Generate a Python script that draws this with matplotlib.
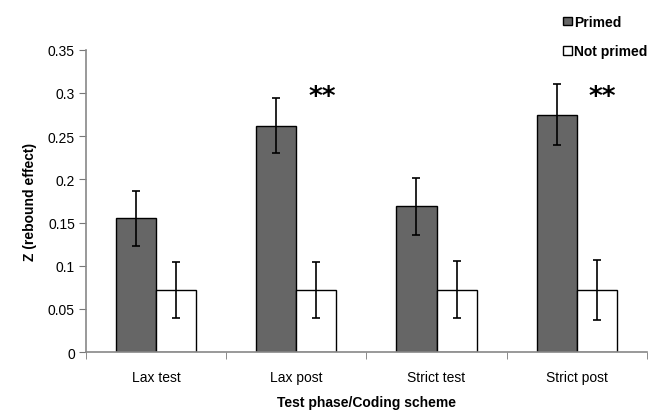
import numpy as np
import matplotlib.pyplot as plt

plt.rcParams['font.family'] = ['Liberation Sans', 'DejaVu Sans']

categories = ["Lax test", "Lax post", "Strict test", "Strict post"]
primed = [0.155, 0.262, 0.169, 0.275]
primed_err = [0.032, 0.032, 0.033, 0.035]
not_primed = [0.072, 0.072, 0.072, 0.072]
not_primed_err = [0.032, 0.032, 0.033, 0.035]
stars = ["", "**", "", "**"]
star_level = 0.295

fig = plt.figure(figsize=(6.59, 4.14), dpi=100)
ax = fig.add_axes([0.1305, 0.147, 0.851, 0.7305])

x = np.arange(len(categories))
w = 0.286
ebar = dict(ecolor='black', elinewidth=1.2, capsize=3, capthick=1.2)
b1 = ax.bar(x - w / 2, primed, w, yerr=primed_err, color='#666666',
            edgecolor='black', linewidth=1, error_kw=ebar, label='Primed')
b2 = ax.bar(x + w / 2, not_primed, w, yerr=not_primed_err, color='white',
            edgecolor='black', linewidth=1, error_kw=ebar, label='Not primed')

# significance marks above the not-primed bars
for i, s in enumerate(stars):
    if s:
        ax.text(x[i] + w / 2 + 0.04, star_level, s, ha='center', va='center',
                fontsize=19, fontweight='bold', family='DejaVu Sans')

ax.set_xlim(-0.5, len(categories) - 0.5)
ax.set_ylim(0, 0.35)
ax.set_yticks([0, 0.05, 0.1, 0.15, 0.2, 0.25, 0.3, 0.35])
ax.set_yticklabels(['0', '0.05', '0.1', '0.15', '0.2', '0.25', '0.3', '0.35'])
ax.set_xticks(x)
ax.set_xticklabels(categories)
ax.set_xticks(np.arange(-0.5, len(categories)), minor=True)
ax.tick_params(axis='x', which='major', length=0, pad=13, labelsize=10)
ax.tick_params(axis='x', which='minor', length=5, color='#777777')
ax.tick_params(axis='y', length=5, color='#777777', labelsize=10, pad=3)

for sp in ['top', 'right']:
    ax.spines[sp].set_visible(False)
for sp in ['left', 'bottom']:
    ax.spines[sp].set_color('#888888')
    ax.spines[sp].set_linewidth(1.2)

ax.set_xlabel('Test phase/Coding scheme', fontsize=10, fontweight='bold', labelpad=8)
ax.set_ylabel('Z (rebound effect)', fontsize=10, fontweight='bold', labelpad=8)

fig.legend(handles=[b1, b2], loc='upper left', bbox_to_anchor=(0.84, 0.985),
           frameon=False, fontsize=10, handlelength=0.6, handleheight=0.6,
           handletextpad=0.2, labelspacing=1.1, borderaxespad=0.3,
           prop={'weight': 'bold', 'size': 10})

fig.savefig('out.png', dpi=100)
